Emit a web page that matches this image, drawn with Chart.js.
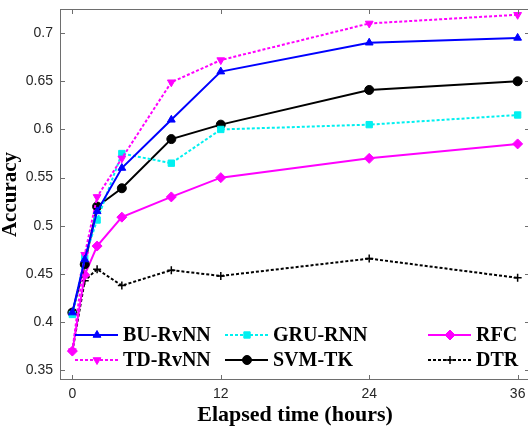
<!DOCTYPE html>
<html>
<head>
<meta charset="utf-8">
<script src="https://cdn.jsdelivr.net/npm/chart.js@4/dist/chart.umd.min.js"></script>
<style>
  html, body { margin: 0; padding: 0; background: #fff; overflow: hidden; }
  #wrap { width: 536px; height: 427px; }
</style>
</head>
<body>
<div id="wrap"><canvas id="accChart"></canvas></div>
<script>
// elapsed time (hours)
const hours = [0, 1, 2, 4, 8, 12, 24, 36];

// accuracy per method
const buRvnn = [0.41, 0.465, 0.515, 0.56, 0.61, 0.66, 0.69, 0.695];
const tdRvnn = [0.37, 0.47, 0.53, 0.57, 0.649, 0.672, 0.71, 0.719];
const gruRnn = [0.408, 0.467, 0.506, 0.575, 0.565, 0.60, 0.605, 0.615];
const svmTk = [0.41, 0.46, 0.52, 0.539, 0.59, 0.605, 0.641, 0.65];
const rfc = [0.37, 0.449, 0.479, 0.509, 0.53, 0.55, 0.57, 0.585];
const dtr = [0.37, 0.443, 0.455, 0.438, 0.454, 0.448, 0.466, 0.446];

// axis ticks
const xTicks = [0, 12, 24, 36];
const yTicks = [0.35, 0.4, 0.45, 0.5, 0.55, 0.6, 0.65, 0.7];

function pts(arr) {
    return hours.map((h, i) => ({ x: h, y: arr[i] }));
}

// MATLAB style box with inward ticks on all four sides
const axisBox = {
    id: 'axisBox',
    afterDraw(chart) {
        const ctx = chart.ctx;
        const a = chart.chartArea;
        const x = chart.scales.x, y = chart.scales.y;
        ctx.save();
        ctx.strokeStyle = '#6e6e6e';
        ctx.lineWidth = 1;
        ctx.strokeRect(Math.round(a.left) + 0.5, Math.round(a.top) + 0.5,
            Math.round(a.right - a.left) - 1, Math.round(a.bottom - a.top) - 1);
        ctx.beginPath();
        xTicks.forEach(v => {
            const px = Math.round(x.getPixelForValue(v)) + 0.5;
            ctx.moveTo(px, a.bottom); ctx.lineTo(px, a.bottom - 5);
            ctx.moveTo(px, a.top); ctx.lineTo(px, a.top + 5);
        });
        yTicks.forEach(v => {
            const py = Math.round(y.getPixelForValue(v)) + 0.5;
            ctx.moveTo(a.left, py); ctx.lineTo(a.left + 5, py);
            ctx.moveTo(a.right, py); ctx.lineTo(a.right - 5, py);
        });
        ctx.stroke();
        ctx.restore();
    }
};

// legend in 3 columns x 2 rows inside the plot
const boxLegend = {
    id: 'boxLegend',
    afterDraw(chart) {
        const ctx = chart.ctx;
        const cols = [75, 225, 428];   // line start of each column
        const rows = [335, 360];
        ctx.save();
        chart.data.datasets.forEach((ds, i) => {
            const x0 = cols[Math.floor(i / 2)];
            const yy = rows[i % 2];
            ctx.strokeStyle = ds.borderColor;
            ctx.lineWidth = ds.borderWidth;
            ctx.setLineDash(ds.borderDash || []);
            ctx.beginPath();
            ctx.moveTo(x0, yy);
            ctx.lineTo(x0 + 43, yy);
            ctx.stroke();
            ctx.setLineDash([]);
            ctx.fillStyle = ds.pointBackgroundColor;
            ctx.strokeStyle = ds.pointBorderColor;
            ctx.lineWidth = ds.pointBorderWidth;
            Chart.helpers.drawPoint(ctx, {
                pointStyle: ds.pointStyle,
                rotation: ds.pointRotation || 0,
                radius: ds.pointRadius,
                borderWidth: ds.pointBorderWidth
            }, x0 + 22, yy);
            ctx.fillStyle = '#000';
            ctx.font = 'bold 20px "Liberation Serif", "Times New Roman", serif';
            ctx.textBaseline = 'middle';
            ctx.textAlign = 'left';
            ctx.fillText(ds.label, x0 + 48, yy + 1);
        });
        ctx.restore();
    }
};

function line(label, arr, color, dash, style, rot, r) {
    return {
        label: label,
        data: pts(arr),
        borderColor: color,
        backgroundColor: color,
        borderWidth: 2,
        borderDash: dash,
        pointStyle: style,
        pointRotation: rot,
        pointRadius: r,
        pointBackgroundColor: color,
        pointBorderColor: color,
        pointBorderWidth: style === 'cross' ? 1.5 : 1,
        tension: 0
    };
}

const tickFont = { family: '"Liberation Sans", Arial, sans-serif', size: 14 };
const serif = '"Liberation Serif", "Times New Roman", serif';

new Chart(document.getElementById('accChart'), {
    type: 'line',
    data: {
        datasets: [
            line('BU-RvNN', buRvnn, '#0000ff', [], 'triangle', 0, 4.5),
            line('TD-RvNN', tdRvnn, '#ff00ff', [3, 2], 'triangle', 180, 4.5),
            line('GRU-RNN', gruRnn, '#00f0f0', [3, 2], 'rect', 0, 4.5),
            line('SVM-TK', svmTk, '#000000', [], 'circle', 0, 4.5),
            line('RFC', rfc, '#ff00ff', [], 'rectRot', 0, 5),
            line('DTR', dtr, '#000000', [3, 2], 'cross', 0, 4)
        ]
    },
    options: {
        responsive: true,
        maintainAspectRatio: false,
        animation: false,
        layout: { padding: { top: 9, left: 0, right: 0, bottom: 0 } },
        plugins: {
            legend: { display: false },
            tooltip: { enabled: false }
        },
        scales: {
            x: {
                type: 'linear',
                min: -1,
                max: 37,
                afterBuildTicks: s => { s.ticks = xTicks.map(v => ({ value: v })); },
                afterFit: s => { s.height = 47; s.paddingLeft = 0; s.paddingRight = 0; },
                grid: { display: false, drawTicks: false },
                border: { display: false },
                ticks: { font: tickFont, color: '#262626', padding: 6, maxRotation: 0, autoSkip: false },
                title: {
                    display: true, text: 'Elapsed time (hours)', color: '#000',
                    font: { family: serif, size: 22, weight: 'bold', lineHeight: 1 },
                    padding: { top: 0, bottom: 1 }
                }
            },
            y: {
                min: 0.34,
                max: 0.725,
                afterBuildTicks: s => { s.ticks = yTicks.map(v => ({ value: v })); },
                afterFit: s => { s.width = 60; s.paddingTop = 0; s.paddingBottom = 0; },
                grid: { display: false, drawTicks: false },
                border: { display: false },
                ticks: {
                    font: tickFont, color: '#262626', padding: 7, autoSkip: false,
                    callback: v => String(+v.toFixed(2))
                },
                title: {
                    display: true, text: 'Accuracy', color: '#000',
                    font: { family: serif, size: 21, weight: 'bold', lineHeight: 1 },
                    padding: { top: 0, bottom: 0 }
                }
            }
        }
    },
    plugins: [axisBox, boxLegend]
});
</script>
</body>
</html>
